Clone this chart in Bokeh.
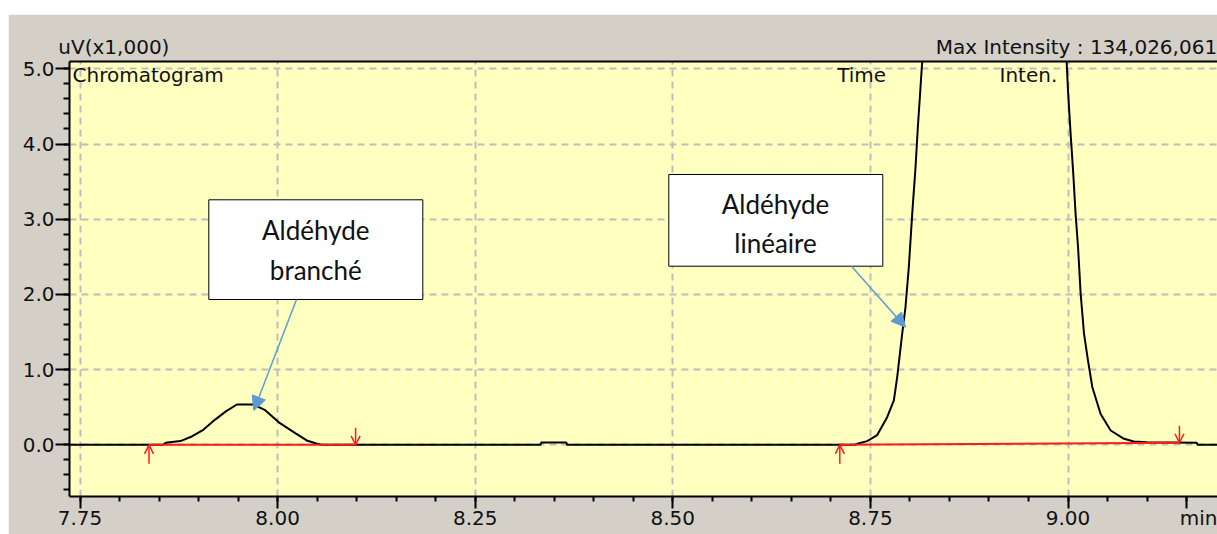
from bokeh.plotting import figure
from bokeh.models import (Range1d, FixedTicker, LinearAxis, Label, BoxAnnotation,
                          Arrow, NormalHead, OpenHead, Spacer, ColumnDataSource)
from bokeh.layouts import column, row
from bokeh.embed import file_html
from bokeh.resources import INLINE

# ---------------- data ----------------
trace_time = [7.70, 7.855, 7.8586, 7.877, 7.8915, 7.906, 7.9206, 7.935, 7.9486, 7.969,
              7.9836, 8.003, 8.0223, 8.0368, 8.050, 8.056, 8.3326, 8.3336, 8.3653, 8.3663,
              8.730, 8.7333, 8.7459, 8.7586, 8.7712, 8.7797, 8.7839, 8.7902, 8.7944, 8.7986,
              8.8029, 8.8071, 8.8100, 8.8134, 8.8155, 8.9050, 8.9983, 9.0000, 9.0033, 9.0067,
              9.0096, 9.0127, 9.0160, 9.0203, 9.0253, 9.0308, 9.0413, 9.0540, 9.0709, 9.0833,
              9.1000, 9.1630, 9.1640, 9.2000]
trace_inten = [0, 0, 0.027, 0.049, 0.111, 0.199, 0.332, 0.448, 0.536, 0.536,
               0.465, 0.288, 0.155, 0.058, 0.013, 0, 0, 0.03, 0.03, 0,
               0, 0.013, 0.049, 0.13, 0.367, 0.59, 0.90, 1.476, 1.83, 2.362,
               3.07, 3.69, 4.22, 4.755, 5.09, 134.026, 5.09, 4.71, 4.135, 3.60,
               3.07, 2.63, 2.01, 1.476, 1.12, 0.766, 0.41, 0.19, 0.08, 0.044,
               0.035, 0.027, 0, 0]

peak_start = [7.8373, 8.7113]
peak_start_level = [0.0, 0.0]
peak_end = [8.0987, 9.141]
peak_end_level = [0.0, 0.027]

x_major = [7.75, 8.00, 8.25, 8.50, 8.75, 9.00]
x_labels = ["7.75", "8.00", "8.25", "8.50", "8.75", "9.00"]
y_major = [0, 1, 2, 3, 4, 5]
y_labels = ["0.0", "1.0", "2.0", "3.0", "4.0", "5.0"]

max_intensity_text = "Max Intensity : 134,026,061"
y_unit_text = "uV(x1,000)"
x_unit_text = "min"
annot_branch = ["Aldéhyde", "branché"]
annot_linear = ["Aldéhyde", "linéaire"]

# ---------------- geometry helpers (page pixel -> data) ----------------
def dx(px):
    return 7.75 + (px - 79.5) / 790.4

def dy(py):
    return (444.3 - py) / 75.2

FONT = "DejaVu Sans"
FS = "20px"
TXT = "#111111"
BLUE = "#5B9BD5"
RED = "#FF1A1A"

p = figure(width=1209, height=520,
           x_range=Range1d(dx(69), dx(1217)), y_range=Range1d(dy(496), dy(61)),
           output_backend="svg", toolbar_location=None,
           min_border_left=61, min_border_right=0, min_border_top=47, min_border_bottom=38,
           background_fill_color="#FFFFC0", border_fill_color="#D4D0C8",
           outline_line_color=None)
p.title.visible = False

# bottom axis (the unit "min" rides on the 9.15 tick position)
unit_pos = 9.15
xa = p.xaxis[0]
xa.ticker = FixedTicker(ticks=x_major + [unit_pos],
                        minor_ticks=[round(7.75 + 0.05 * i, 2) for i in range(0, 29)])
overrides = {v: s for v, s in zip(x_major, x_labels)}
overrides[unit_pos] = "\u00a0\u00a0\u00a0\u00a0" + x_unit_text
xa.major_label_overrides = overrides

ya = p.yaxis[0]
ya.ticker = FixedTicker(ticks=y_major,
                        minor_ticks=[round(-0.6 + 0.2 * i, 1) for i in range(0, 29)])
ya.major_label_overrides = {v: s for v, s in zip(y_major, y_labels)}

for ax, tout, mout, stand in ((xa, 12, 5, -3), (ya, 14, 6, 1)):
    ax.axis_line_color = "black"
    ax.axis_line_width = 2
    ax.major_tick_in = 0
    ax.minor_tick_in = 0
    ax.major_tick_out = tout
    ax.minor_tick_out = mout
    ax.major_tick_line_width = 2
    ax.minor_tick_line_width = 2
    ax.major_tick_line_color = "black"
    ax.minor_tick_line_color = "black"
    ax.major_label_text_font = FONT
    ax.major_label_text_font_size = FS
    ax.major_label_text_color = TXT
    ax.major_label_standoff = stand

# top border line; its two labels are the texts written above the chart window
top_pos = [dx(113.4), dx(1075.9)]
top_axis = LinearAxis(ticker=FixedTicker(ticks=top_pos),
                      major_label_overrides={top_pos[0]: y_unit_text,
                                             top_pos[1]: max_intensity_text},
                      major_tick_out=0, major_tick_in=0, minor_tick_out=0, minor_tick_in=0,
                      major_label_text_font=FONT, major_label_text_font_size=FS,
                      major_label_text_color=TXT, major_label_standoff=3,
                      axis_line_color="black", axis_line_width=2)
p.add_layout(top_axis, "above")

p.xgrid[0].ticker = FixedTicker(ticks=x_major)
for g in (p.xgrid[0], p.ygrid[0]):
    g.grid_line_color = "#BEBEBE"
    g.grid_line_width = 2
    g.grid_line_dash = "7 5"

# trace
src = ColumnDataSource(dict(t=trace_time, v=trace_inten))
p.line("t", "v", source=src, line_color="black", line_width=2)

# integration baselines
p.segment(x0=peak_start, y0=peak_start_level, x1=peak_end, y1=peak_end_level,
          line_color=RED, line_width=2)
for xs, ys in zip(peak_start, peak_start_level):
    p.add_layout(Arrow(end=OpenHead(size=9, line_color=RED, line_width=1.5),
                       x_start=xs, y_start=ys - 19 / 75.2, x_end=xs, y_end=ys,
                       line_color=RED, line_width=1.5))
for xe, ye in zip(peak_end, peak_end_level):
    p.add_layout(Arrow(end=OpenHead(size=9, line_color=RED, line_width=1.5),
                       x_start=xe, y_start=ye + 17 / 75.2, x_end=xe, y_end=ye,
                       line_color=RED, line_width=1.5))

# texts in the chart window (y given as the visual middle of the text)
def lab(text, px, py, align="left", font=FONT, size=FS):
    p.add_layout(Label(x=dx(px), y=dy(py), text=text, text_align=align,
                       text_baseline="middle", text_font=font,
                       text_font_size=size, text_color=TXT))

lab("Chromatogram", 72, 74)
lab("Time", 836.7, 74)
lab("Inten.", 999, 74)

# callout boxes
ANN_FONT = "Lato"
ANN_FS = "26px"
p.add_layout(BoxAnnotation(left=dx(208.3), right=dx(422.3), top=dy(199.3), bottom=dy(299),
                           fill_color="white", fill_alpha=1, line_color="black",
                           line_width=1, line_alpha=1))
p.add_layout(BoxAnnotation(left=dx(668.3), right=dx(882.3), top=dy(174), bottom=dy(265.7),
                           fill_color="white", fill_alpha=1, line_color="black",
                           line_width=1, line_alpha=1))
lab(annot_branch[0], 315.3, 229.5, align="center", font=ANN_FONT, size=ANN_FS)
lab(annot_branch[1], 315.3, 269, align="center", font=ANN_FONT, size=ANN_FS)
lab(annot_linear[0], 775, 203, align="center", font=ANN_FONT, size=ANN_FS)
lab(annot_linear[1], 775, 242.5, align="center", font=ANN_FONT, size=ANN_FS)

p.add_layout(Arrow(end=NormalHead(size=14, fill_color=BLUE, line_color=BLUE),
                   x_start=dx(296), y_start=dy(299), x_end=dx(253.3), y_end=dy(410),
                   line_color=BLUE, line_width=1.5))
p.add_layout(Arrow(end=NormalHead(size=14, fill_color=BLUE, line_color=BLUE),
                   x_start=dx(851), y_start=dy(265.7), x_end=dx(905), y_end=dy(326.7),
                   line_color=BLUE, line_width=1.5))

layout = column(Spacer(width=1217, height=14),
                row(Spacer(width=8, height=520), p))
open("out.html", "w").write(file_html(layout, INLINE))
